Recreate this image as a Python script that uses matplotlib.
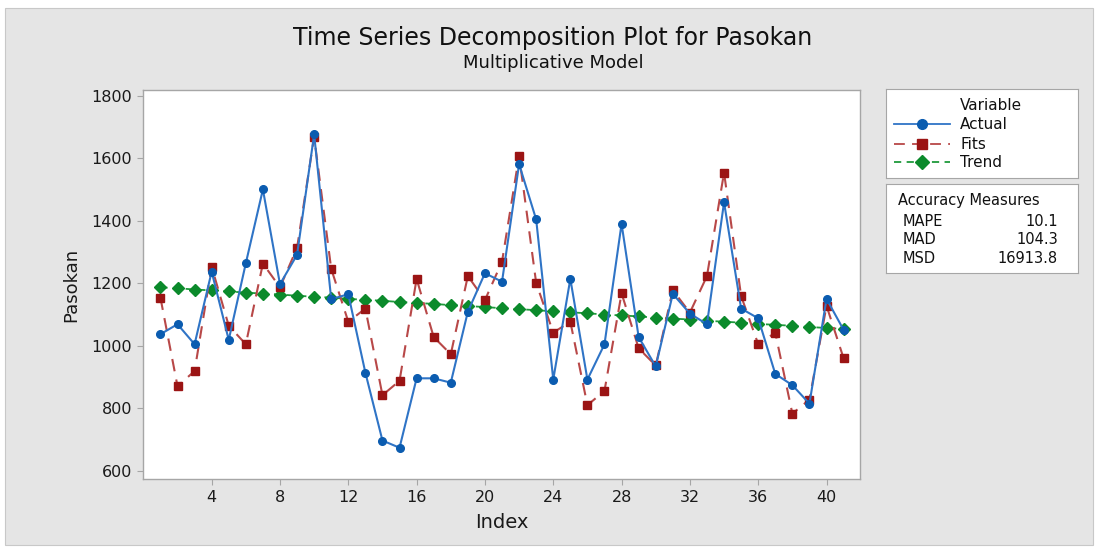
import matplotlib
matplotlib.use("Agg")
import matplotlib.pyplot as plt
from matplotlib.patches import Rectangle
from matplotlib.lines import Line2D

plt.rcParams['font.family'] = ['DejaVu Sans']

index = list(range(1, 42))
actual = [1037, 1069, 1005, 1237, 1019, 1264, 1500, 1197, 1291, 1676,
          1149, 1165, 914, 697, 674, 896, 896, 882, 1109, 1232,
          1205, 1581, 1404, 892, 1214, 892, 1005, 1390, 1028, 934,
          1166, 1103, 1069, 1459, 1119, 1088, 910, 874, 815, 1150,
          1051]
fits = [1154, 871, 919, 1253, 1064, 1005, 1263, 1187, 1313, 1668,
        1246, 1077, 1119, 842, 888, 1214, 1028, 973, 1223, 1146,
        1269, 1608, 1201, 1042, 1077, 810, 856, 1168, 992, 937,
        1178, 1106, 1223, 1554, 1159, 1005, 1042, 783, 828, 1128,
        960]
trend = [1187, 1184, 1180, 1177, 1174, 1170, 1167, 1164, 1160, 1157,
         1154, 1150, 1147, 1144, 1140, 1137, 1134, 1130, 1127, 1124,
         1120, 1117, 1114, 1110, 1107, 1104, 1100, 1097, 1094, 1090,
         1087, 1084, 1080, 1077, 1074, 1070, 1067, 1064, 1060, 1057,
         1054]
xticks = [4, 8, 12, 16, 20, 24, 28, 32, 36, 40]
yticks = [600, 800, 1000, 1200, 1400, 1600, 1800]
measures = ["MAPE", "MAD", "MSD"]
measure_values = ["10.1", "104.3", "16913.8"]

BLUE = "#0b5cb0"
BLUE_L = "#2f74c6"
RED = "#9b1414"
RED_L = "#b84848"
GREEN = "#0b8a2b"
GREEN_L = "#1f9a3c"
PANEL = "#e5e5e5"
EDGE = "#a6a6a6"

W, H = 1098, 549
fig = plt.figure(figsize=(W / 100, H / 100), dpi=100, facecolor="white")

def fx(px):
    return px / W

def fy(py):
    return 1 - py / H

fig.patches.append(Rectangle((fx(5), fy(545)), fx(1093) - fx(5), fy(8) - fy(545),
                             transform=fig.transFigure, facecolor=PANEL,
                             edgecolor="#c8c8c8", linewidth=0.8, zorder=-10))

ax = fig.add_axes([fx(143), fy(479), fx(860) - fx(143), fy(90) - fy(479)])
ax.set_facecolor("white")
ax.plot(index, trend, color=GREEN_L, linestyle=(0, (4, 3)), linewidth=1.3,
        marker="D", markersize=6, markerfacecolor=GREEN, markeredgecolor=GREEN, zorder=2)
ax.plot(index, fits, color=RED_L, linestyle=(0, (6, 4)), linewidth=1.5,
        marker="s", markersize=6, markerfacecolor=RED, markeredgecolor=RED, zorder=3)
ax.plot(index, actual, color=BLUE_L, linestyle="-", linewidth=1.5,
        marker="o", markersize=5.5, markerfacecolor=BLUE, markeredgecolor=BLUE, zorder=4)

ax.set_xlim(-0.02, 41.96)
ax.set_ylim(574, 1818)
ax.set_xticks(xticks)
ax.set_yticks(yticks)
ax.tick_params(direction="out", length=4, color=EDGE, labelsize=11.5,
               labelcolor="#1a1a1a", pad=4)
for s in ax.spines.values():
    s.set_color(EDGE)
    s.set_linewidth(1.0)
ax.set_xlabel("Index", fontsize=14, color="#1a1a1a", labelpad=6)
ax.set_ylabel("Pasokan", fontsize=13, color="#1a1a1a", labelpad=8)

fig.text(fx(553), fy(38), "Time Series Decomposition Plot for Pasokan",
         ha="center", va="center", fontsize=17, color="#111111")
fig.text(fx(553), fy(63), "Multiplicative Model",
         ha="center", va="center", fontsize=13, color="#111111")

# Legend box
lx0, lx1, ly0, ly1 = 886, 1078, 89, 178
lax = fig.add_axes([fx(lx0), fy(ly1), fx(lx1) - fx(lx0), fy(ly0) - fy(ly1)])
lax.set_xlim(lx0, lx1)
lax.set_ylim(ly1, ly0)
lax.set_xticks([])
lax.set_yticks([])
for s in lax.spines.values():
    s.set_color(EDGE)
lax.text(960, 105, "Variable", va="center", ha="left", fontsize=11, color="#111111")
rows = [("Actual", BLUE_L, BLUE, "-", "o", 124),
        ("Fits", RED_L, RED, (0, (6, 4)), "s", 144),
        ("Trend", GREEN_L, GREEN, (0, (4, 3)), "D", 162)]
for label, cl, c, ls, mk, yy in rows:
    lax.add_line(Line2D([894, 950], [yy, yy], color=cl, linestyle=ls, linewidth=1.3))
    lax.add_line(Line2D([922], [yy], color=c, marker=mk, markersize=7, linestyle="none"))
    lax.text(960, yy, label, va="center", ha="left", fontsize=11, color="#111111")

# Accuracy measures box
ay0, ay1 = 184, 273
aax = fig.add_axes([fx(lx0), fy(ay1), fx(lx1) - fx(lx0), fy(ay0) - fy(ay1)])
aax.set_xlim(lx0, lx1)
aax.set_ylim(ay1, ay0)
aax.set_xticks([])
aax.set_yticks([])
for s in aax.spines.values():
    s.set_color(EDGE)
aax.text(898, 200, "Accuracy Measures", va="center", ha="left", fontsize=10.5, color="#111111")
for i, (m, v) in enumerate(zip(measures, measure_values)):
    yy = 221 + i * 18.5
    aax.text(903, yy, m, va="center", ha="left", fontsize=10.5, color="#111111")
    aax.text(1058, yy, v, va="center", ha="right", fontsize=10.5, color="#111111")

fig.savefig("out.png", dpi=100, facecolor="white")
